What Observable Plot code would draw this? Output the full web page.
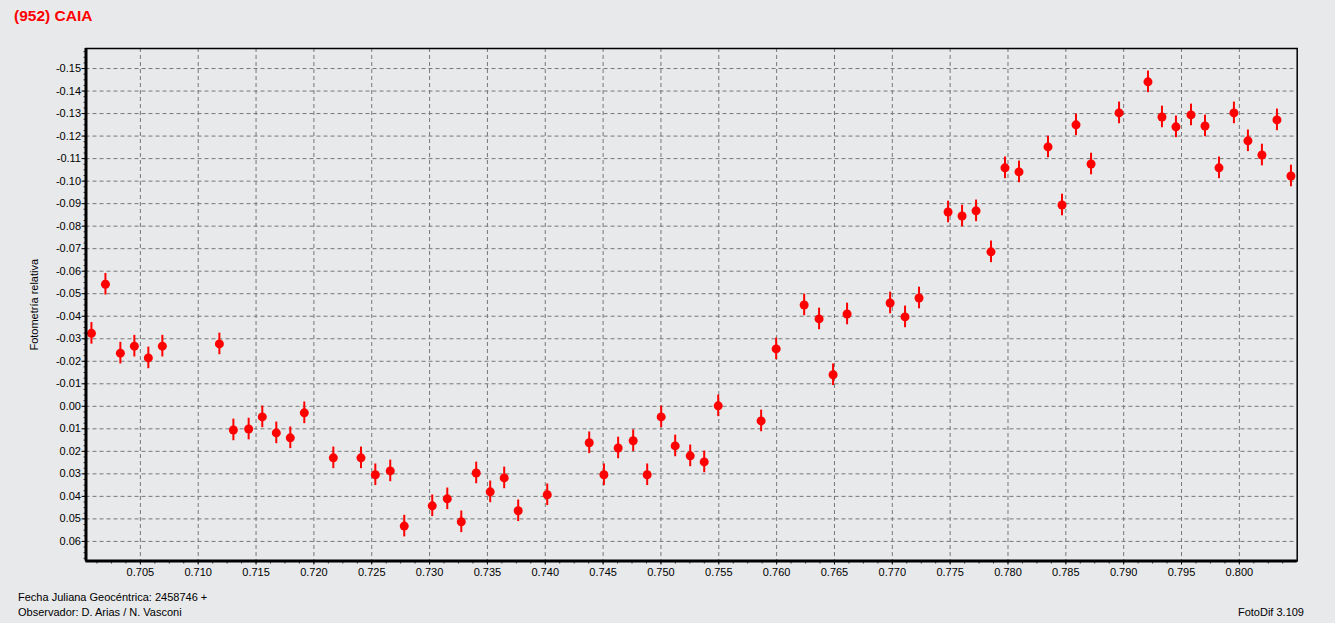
<!DOCTYPE html>
<html>
<head>
<meta charset="utf-8">
<script src="https://cdn.jsdelivr.net/npm/d3@7"></script>
<script src="https://cdn.jsdelivr.net/npm/@observablehq/plot@0.6"></script>
<style>
  html, body { margin: 0; padding: 0; background: #e8e9eb; }
  #wrap { position: relative; width: 1335px; height: 623px; overflow: hidden; font-family: "Liberation Sans", Arial, sans-serif; }
  #title { position: absolute; left: 14px; top: 7.6px; font-size: 15.5px; line-height: 15.5px; font-weight: bold; color: #ff0000; white-space: nowrap; }
  .foot { position: absolute; font-size: 11px; line-height: 11px; color: #000; white-space: nowrap; }
  #chart { position: absolute; left: 0; top: 0; }
</style>
</head>
<body>
<div id="wrap">
  <div id="chart"></div>
  <div id="title">(952) CAIA</div>
  <div class="foot" style="left:18px; top:592px;">Fecha Juliana Geocéntrica: 2458746 +</div>
  <div class="foot" style="left:18px; top:607px;">Observador: D. Arias / N. Vasconi</div>
  <div class="foot" style="right:31px; top:607px;">FotoDif 3.109</div>
</div>
<script>
// Julian date fraction (geocentric, 2458746 +)
const jd = [0.70077, 0.70198, 0.70327, 0.70448, 0.70569, 0.70690, 0.71183, 0.71304, 0.71436, 0.71554,
  0.71675, 0.71796, 0.71917, 0.72168, 0.72407, 0.72531, 0.72660, 0.72781, 0.73023, 0.73153,
  0.73274, 0.73403, 0.73524, 0.73645, 0.73766, 0.74017, 0.74380, 0.74507, 0.74630, 0.74760,
  0.74881, 0.75002, 0.75123, 0.75253, 0.75374, 0.75495, 0.75866, 0.75996, 0.76238, 0.76367,
  0.76488, 0.76609, 0.76981, 0.77110, 0.77231, 0.77482, 0.77603, 0.77724, 0.77853, 0.77974,
  0.78095, 0.78346, 0.78467, 0.78588, 0.78718, 0.78960, 0.79210, 0.79331, 0.79452, 0.79582,
  0.79703, 0.79824, 0.79953, 0.80074, 0.80195, 0.80325, 0.80446];
// Relative photometry (magnitudes)
const mag = [-0.0324, -0.0542, -0.0236, -0.0267, -0.0215, -0.0267, -0.0277, 0.0105, 0.0101, 0.0047,
  0.0118, 0.0140, 0.0029, 0.0229, 0.0229, 0.0304, 0.0287, 0.0532, 0.0442, 0.0411,
  0.0513, 0.0296, 0.0380, 0.0318, 0.0464, 0.0393, 0.0162, 0.0304, 0.0185, 0.0153,
  0.0304, 0.0047, 0.0176, 0.0220, 0.0247, -0.0002, 0.0065, -0.0255, -0.0450, -0.0388,
  -0.0140, -0.0410, -0.0459, -0.0397, -0.0481, -0.0863, -0.0845, -0.0868, -0.0686, -0.1059,
  -0.1041, -0.1152, -0.0894, -0.1250, -0.1076, -0.1303, -0.1441, -0.1285, -0.1241, -0.1294,
  -0.1245, -0.1059, -0.1303, -0.1179, -0.1116, -0.1272, -0.1023];
const magErr = 0.0048;

const xTicks = [0.705, 0.710, 0.715, 0.720, 0.725, 0.730, 0.735, 0.740, 0.745, 0.750,
  0.755, 0.760, 0.765, 0.770, 0.775, 0.780, 0.785, 0.790, 0.795, 0.800];
const yTicks = [-0.15, -0.14, -0.13, -0.12, -0.11, -0.10, -0.09, -0.08, -0.07, -0.06, -0.05,
  -0.04, -0.03, -0.02, -0.01, 0.00, 0.01, 0.02, 0.03, 0.04, 0.05, 0.06];
const xMinor = d3.range(0, 85).map(i => 0.70125 + i * 0.00125).filter(v => v < 0.805);
const yMinor = d3.range(0, 92).map(i => -0.1575 + i * 0.0025).filter(v => v < 0.068);

const xDomain = [0.7003, 0.8050];
const yDomain = [0.0687, -0.1589];

const data = jd.map((x, i) => ({x, y: mag[i], lo: mag[i] - magErr, hi: mag[i] + magErr}));

const chart = Plot.plot({
  width: 1335,
  height: 600,
  marginTop: 48,
  marginBottom: 39.5,
  marginLeft: 85.5,
  marginRight: 38.3,
  style: {background: "transparent", fontFamily: "'Liberation Sans', Arial, sans-serif", fontSize: "11px", color: "#000"},
  x: {domain: xDomain},
  y: {domain: yDomain},
  marks: [
    Plot.gridX(xTicks, {stroke: "#777", strokeOpacity: 1, strokeDasharray: "4,3"}),
    Plot.gridY(yTicks, {stroke: "#777", strokeOpacity: 1, strokeDasharray: "4,3"}),
    Plot.axisX(xMinor, {tickSize: 3, tickFormat: () => "", label: null, stroke: "#333"}),
    Plot.axisY(yMinor, {tickSize: 2, tickFormat: () => "", label: null, stroke: "#333"}),
    Plot.axisX(xTicks, {tickSize: 4, tickPadding: 3, fontSize: 11, tickFormat: d => d.toFixed(3), label: null}),
    Plot.axisY(yTicks, {tickSize: 4, tickPadding: 1, fontSize: 11, tickFormat: d => d.toFixed(2),
      label: "Fotometría relativa", labelAnchor: "center", labelArrow: "none", labelOffset: 56}),
    Plot.ruleX(data, {x: "x", y1: "lo", y2: "hi", stroke: "#ff0000", strokeWidth: 2}),
    Plot.dot(data, {x: "x", y: "y", r: 4.5, fill: "#ff0000", stroke: "none"}),
    Plot.frame({stroke: "#000", strokeWidth: 1.5}),
    Plot.ruleX([xDomain[0]], {stroke: "#000", strokeWidth: 3}),
    Plot.ruleY([yDomain[0]], {stroke: "#000", strokeWidth: 3})
  ]
});
document.getElementById("chart").appendChild(chart);
</script>
</body>
</html>
